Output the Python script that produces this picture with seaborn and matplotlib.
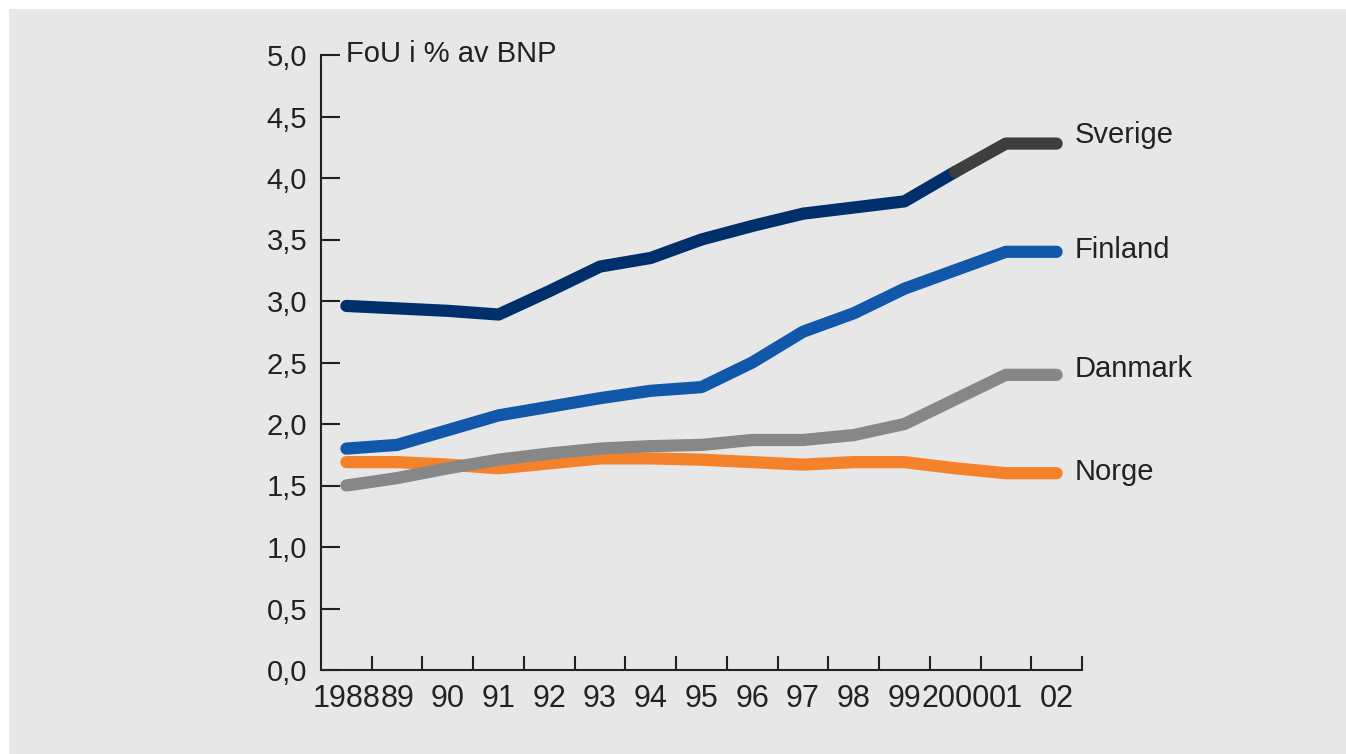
import matplotlib.pyplot as plt
from matplotlib.patches import Rectangle
import numpy as np
import pandas as pd
import seaborn as sns

years = ['1988', '89', '90', '91', '92', '93', '94', '95', '96', '97', '98', '99', '2000', '01', '02']
sverige = [2.96, 2.94, 2.92, 2.89, 3.08, 3.28, 3.35, 3.50, 3.61, 3.71, 3.76, 3.81, 4.05, 4.28, 4.28]
finland = [1.80, 1.83, 1.95, 2.07, 2.14, 2.21, 2.27, 2.30, 2.50, 2.75, 2.90, 3.10, 3.25, 3.40, 3.40]
danmark = [1.50, 1.56, 1.64, 1.71, 1.76, 1.80, 1.82, 1.83, 1.87, 1.87, 1.91, 2.00, 2.20, 2.40, 2.40]
norge = [1.69, 1.69, 1.67, 1.64, 1.68, 1.72, 1.72, 1.71, 1.69, 1.67, 1.69, 1.69, 1.64, 1.60, 1.60]
prognos_fran = 12  # Sverige drawn grey from 2000 on

sns.set_style('ticks')
plt.rcParams['font.family'] = ['Liberation Sans', 'DejaVu Sans']
plt.rcParams['text.color'] = '#222222'

fig = plt.figure(figsize=(13.46, 7.54), dpi=100)
fig.patch.set_facecolor('white')
fig.patches.append(Rectangle((9 / 1346, 0), 1, 1 - 9 / 754, transform=fig.transFigure,
                             facecolor='#e7e7e7', edgecolor='none', zorder=-10))
ax = fig.add_axes([321 / 1346, 1 - 670 / 754, 761 / 1346, 615 / 754])
ax.set_facecolor('none')

pos = np.arange(len(years))
series = [
    ('Norge', pd.DataFrame({'x': pos, 'y': norge}), '#f4822b'),
    ('Danmark', pd.DataFrame({'x': pos, 'y': danmark}), '#878787'),
    ('Finland', pd.DataFrame({'x': pos, 'y': finland}), '#1158aa'),
    ('Sverige', pd.DataFrame({'x': pos[:prognos_fran + 1], 'y': sverige[:prognos_fran + 1]}), '#00306c'),
    ('Sverige prognos', pd.DataFrame({'x': pos[prognos_fran:], 'y': sverige[prognos_fran:]}), '#3e3e3e'),
]
for name, d, col in series:
    sns.lineplot(data=d, x='x', y='y', color=col, lw=8.8, ax=ax,
                 solid_capstyle='round', solid_joinstyle='round')

# series names at the right end
ends = [('Sverige', sverige[-1], 6), ('Finland', finland[-1], 1),
        ('Danmark', danmark[-1], 4), ('Norge', norge[-1], 1)]
for name, v, dy in ends:
    ax.annotate(name, xy=(pos[-1], v), xytext=(13, dy), textcoords='offset points',
                va='center', ha='left', fontsize=21, annotation_clip=False)

ax.annotate('FoU i % av BNP', xy=(0, 1), xycoords='axes fraction', xytext=(18, 1),
            textcoords='offset points', va='center', ha='left', fontsize=21)

ax.set_xlim(-0.5, 14.5)
ax.set_ylim(0, 5)
ax.set_xticks(pos + 0.5)
ax.set_xticks(pos, minor=True)
ax.set_xticklabels(years, minor=True, family=['Liberation Sans Narrow', 'Liberation Sans'], fontsize=22)
ax.tick_params(axis='x', which='major', direction='in', length=10, width=1.5,
               labelbottom=False, color='#222222')
ax.tick_params(axis='x', which='minor', length=0, pad=10, labelcolor='#222222')

yt = np.arange(0, 5.01, 0.5)
ax.set_yticks(yt)
ax.set_yticklabels([f'{v:.1f}'.replace('.', ',') for v in yt], fontsize=21)
ax.tick_params(axis='y', direction='in', length=14, width=1.5, pad=10,
               color='#222222', labelcolor='#222222')

sns.despine(ax=ax)
for s in ['left', 'bottom']:
    ax.spines[s].set_linewidth(1.5)
    ax.spines[s].set_color('#222222')
ax.set_xlabel('')
ax.set_ylabel('')
ax.grid(False)

fig.savefig('out.png', dpi=100, facecolor=fig.get_facecolor())
